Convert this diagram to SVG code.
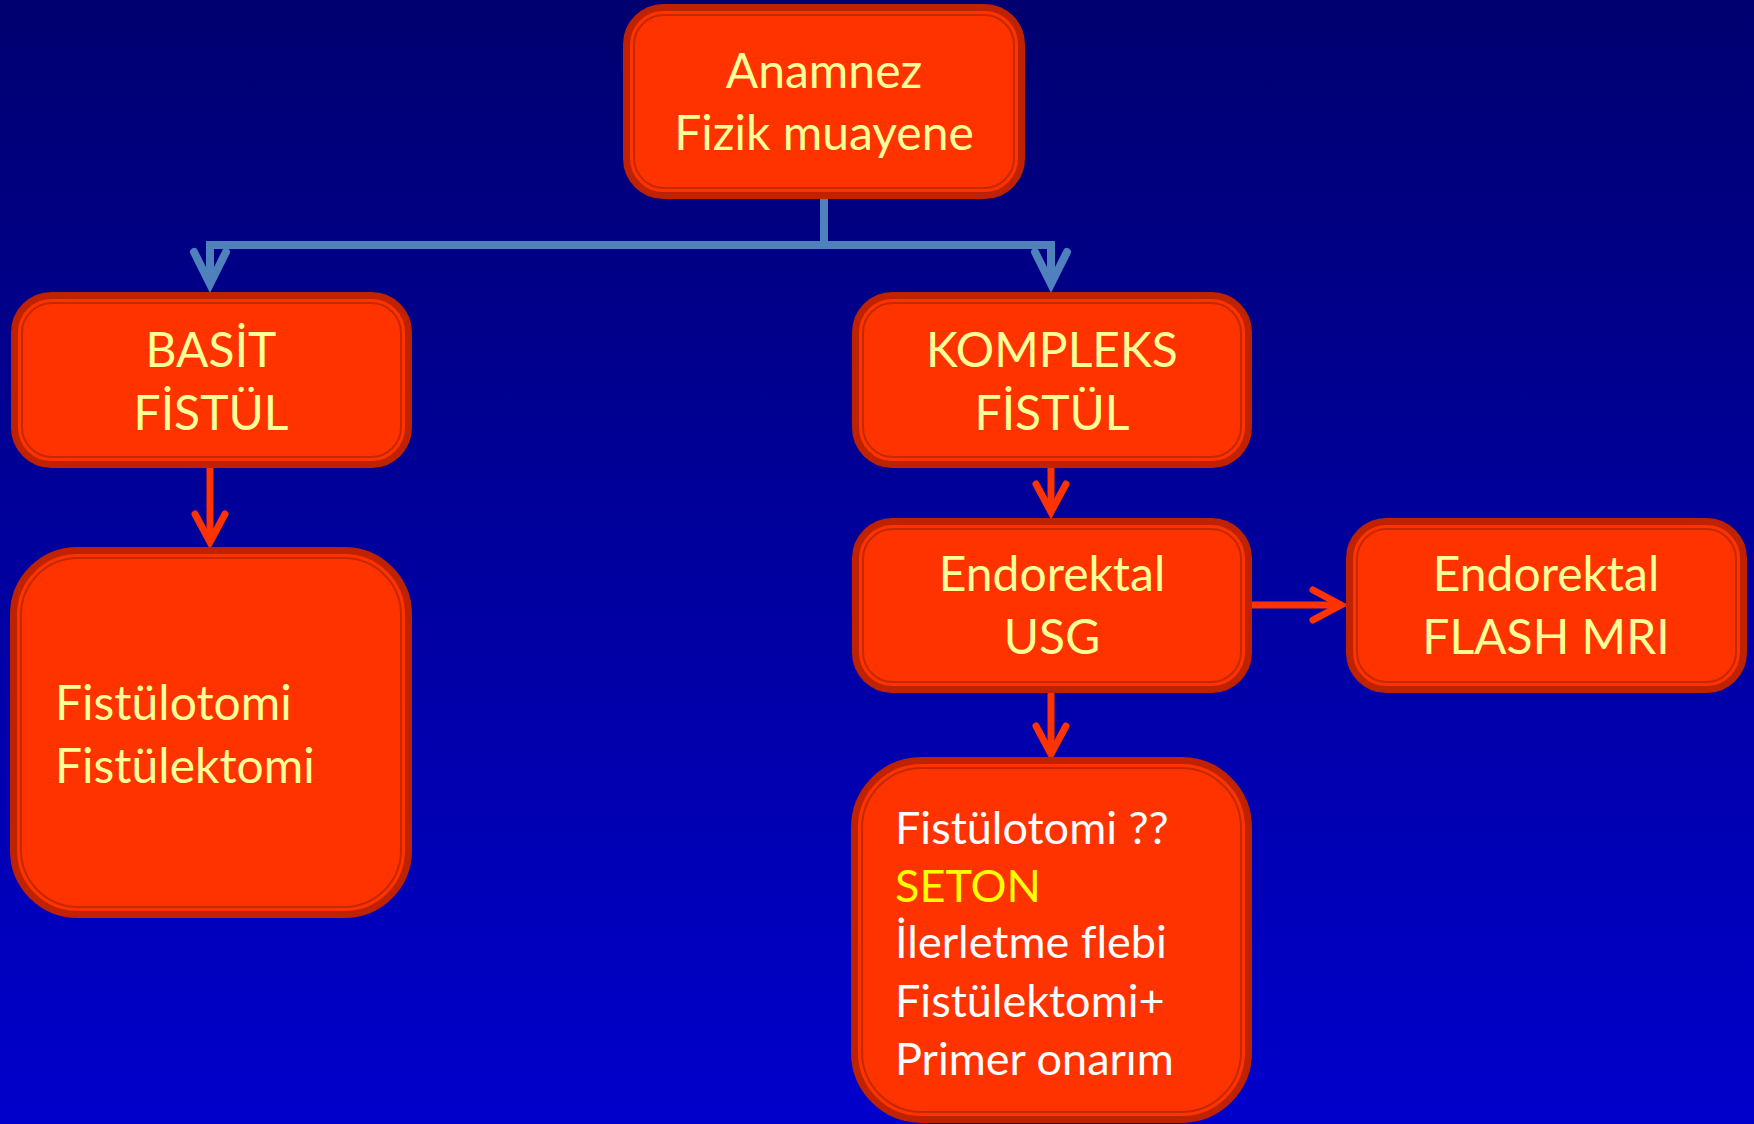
<svg xmlns="http://www.w3.org/2000/svg" width="1754" height="1124" viewBox="0 0 1754 1124">
<defs>
<linearGradient id="bg" x1="0" y1="0" x2="0" y2="1">
<stop offset="0" stop-color="#000070"/>
<stop offset="1" stop-color="#0000CC"/>
</linearGradient>
<marker id="blueHead" markerUnits="userSpaceOnUse" viewBox="-40 -24 50 48" markerWidth="50" markerHeight="48" refX="0" refY="0" orient="auto" overflow="visible">
<path d="M-32 -16 L0 0 L-32 16" fill="none" stroke="#4F81BD" stroke-width="8" stroke-linecap="round" stroke-linejoin="miter"/>
</marker>
<marker id="redHead" markerUnits="userSpaceOnUse" viewBox="-40 -24 50 48" markerWidth="50" markerHeight="48" refX="0" refY="0" orient="auto" overflow="visible">
<path d="M-28 -15 L0 0 L-28 15" fill="none" stroke="#FF3300" stroke-width="7" stroke-linecap="round" stroke-linejoin="miter"/>
</marker>
</defs>
<style>
.outer{fill:#FF3300;stroke:#BE2200;stroke-width:7}
.inner{fill:none;stroke:#C42800;stroke-width:2}
.t{font-family:Lato,"Liberation Sans",sans-serif;font-size:48px;fill:#FFFF99;font-variant-ligatures:none}
.c{text-anchor:middle}
.w{font-family:Lato,"Liberation Sans",sans-serif;font-size:45px;fill:#FFFFFF;font-variant-ligatures:none}
.blue{fill:none;stroke:#4F81BD;stroke-width:8;stroke-linejoin:miter}
.red{fill:none;stroke:#FF3300;stroke-width:7}
</style>
<rect width="1754" height="1124" fill="url(#bg)"/>
<g id="connectors">
<path class="blue" d="M824 199 V245"/>
<path class="blue" d="M828 245 H210 V284" marker-end="url(#blueHead)"/>
<path class="blue" d="M820 245 H1051 V284" marker-end="url(#blueHead)"/>
<path class="red" d="M210 466 V542" marker-end="url(#redHead)"/>
<path class="red" d="M1051 466 V512" marker-end="url(#redHead)"/>
<path class="red" d="M1250 605 H1341" marker-end="url(#redHead)"/>
<path class="red" d="M1051 691 V754" marker-end="url(#redHead)"/>
</g>
<g id="node-anamnez">
<rect class="outer" x="626.5" y="7.5" width="395" height="188" rx="37"/>
<rect class="inner" x="634" y="15" width="380" height="173" rx="30"/>
<text class="t c" x="824" y="88">Anamnez</text>
<text class="t c" x="824" y="150">Fizik muayene</text>
</g>
<g id="node-basit">
<rect class="outer" x="14.5" y="295.5" width="394" height="169" rx="37"/>
<rect class="inner" x="22" y="303" width="379" height="154" rx="30"/>
<text class="t c" x="211" y="367">BASİT</text>
<text class="t c" x="211" y="430">FİSTÜL</text>
</g>
<g id="node-kompleks">
<rect class="outer" x="855.5" y="295.5" width="393" height="169" rx="37"/>
<rect class="inner" x="863" y="303" width="378" height="154" rx="30"/>
<text class="t c" x="1052" y="367">KOMPLEKS</text>
<text class="t c" x="1052" y="430">FİSTÜL</text>
</g>
<g id="node-fistulotomi">
<rect class="outer" x="13.5" y="550.5" width="395" height="364" rx="64"/>
<rect class="inner" x="21" y="558" width="380" height="349" rx="57"/>
<text class="t" x="55" y="720">Fistülotomi</text>
<text class="t" x="55" y="783">Fistülektomi</text>
</g>
<g id="node-usg">
<rect class="outer" x="855.5" y="521.5" width="393" height="168" rx="37"/>
<rect class="inner" x="863" y="529" width="378" height="153" rx="30"/>
<text class="t c" x="1052" y="591">Endorektal</text>
<text class="t c" x="1052" y="654">USG</text>
</g>
<g id="node-mri">
<rect class="outer" x="1349.5" y="521.5" width="394" height="168" rx="37"/>
<rect class="inner" x="1357" y="529" width="379" height="153" rx="30"/>
<text class="t c" x="1546" y="591">Endorektal</text>
<text class="t c" x="1546" y="654">FLASH MRI</text>
</g>
<g id="node-tedavi">
<rect class="outer" x="854.5" y="760.5" width="394" height="359" rx="67"/>
<rect class="inner" x="862" y="768" width="379" height="344" rx="60"/>
<text class="w" x="895" y="844">Fistülotomi ??</text>
<text class="w" x="895" y="902" style="fill:#FFFF00">SETON</text>
<text class="w" x="895" y="958">İlerletme flebi</text>
<text class="w" x="895" y="1017">Fistülektomi+</text>
<text class="w" x="895" y="1075">Primer onarım</text>
</g>
</svg>
